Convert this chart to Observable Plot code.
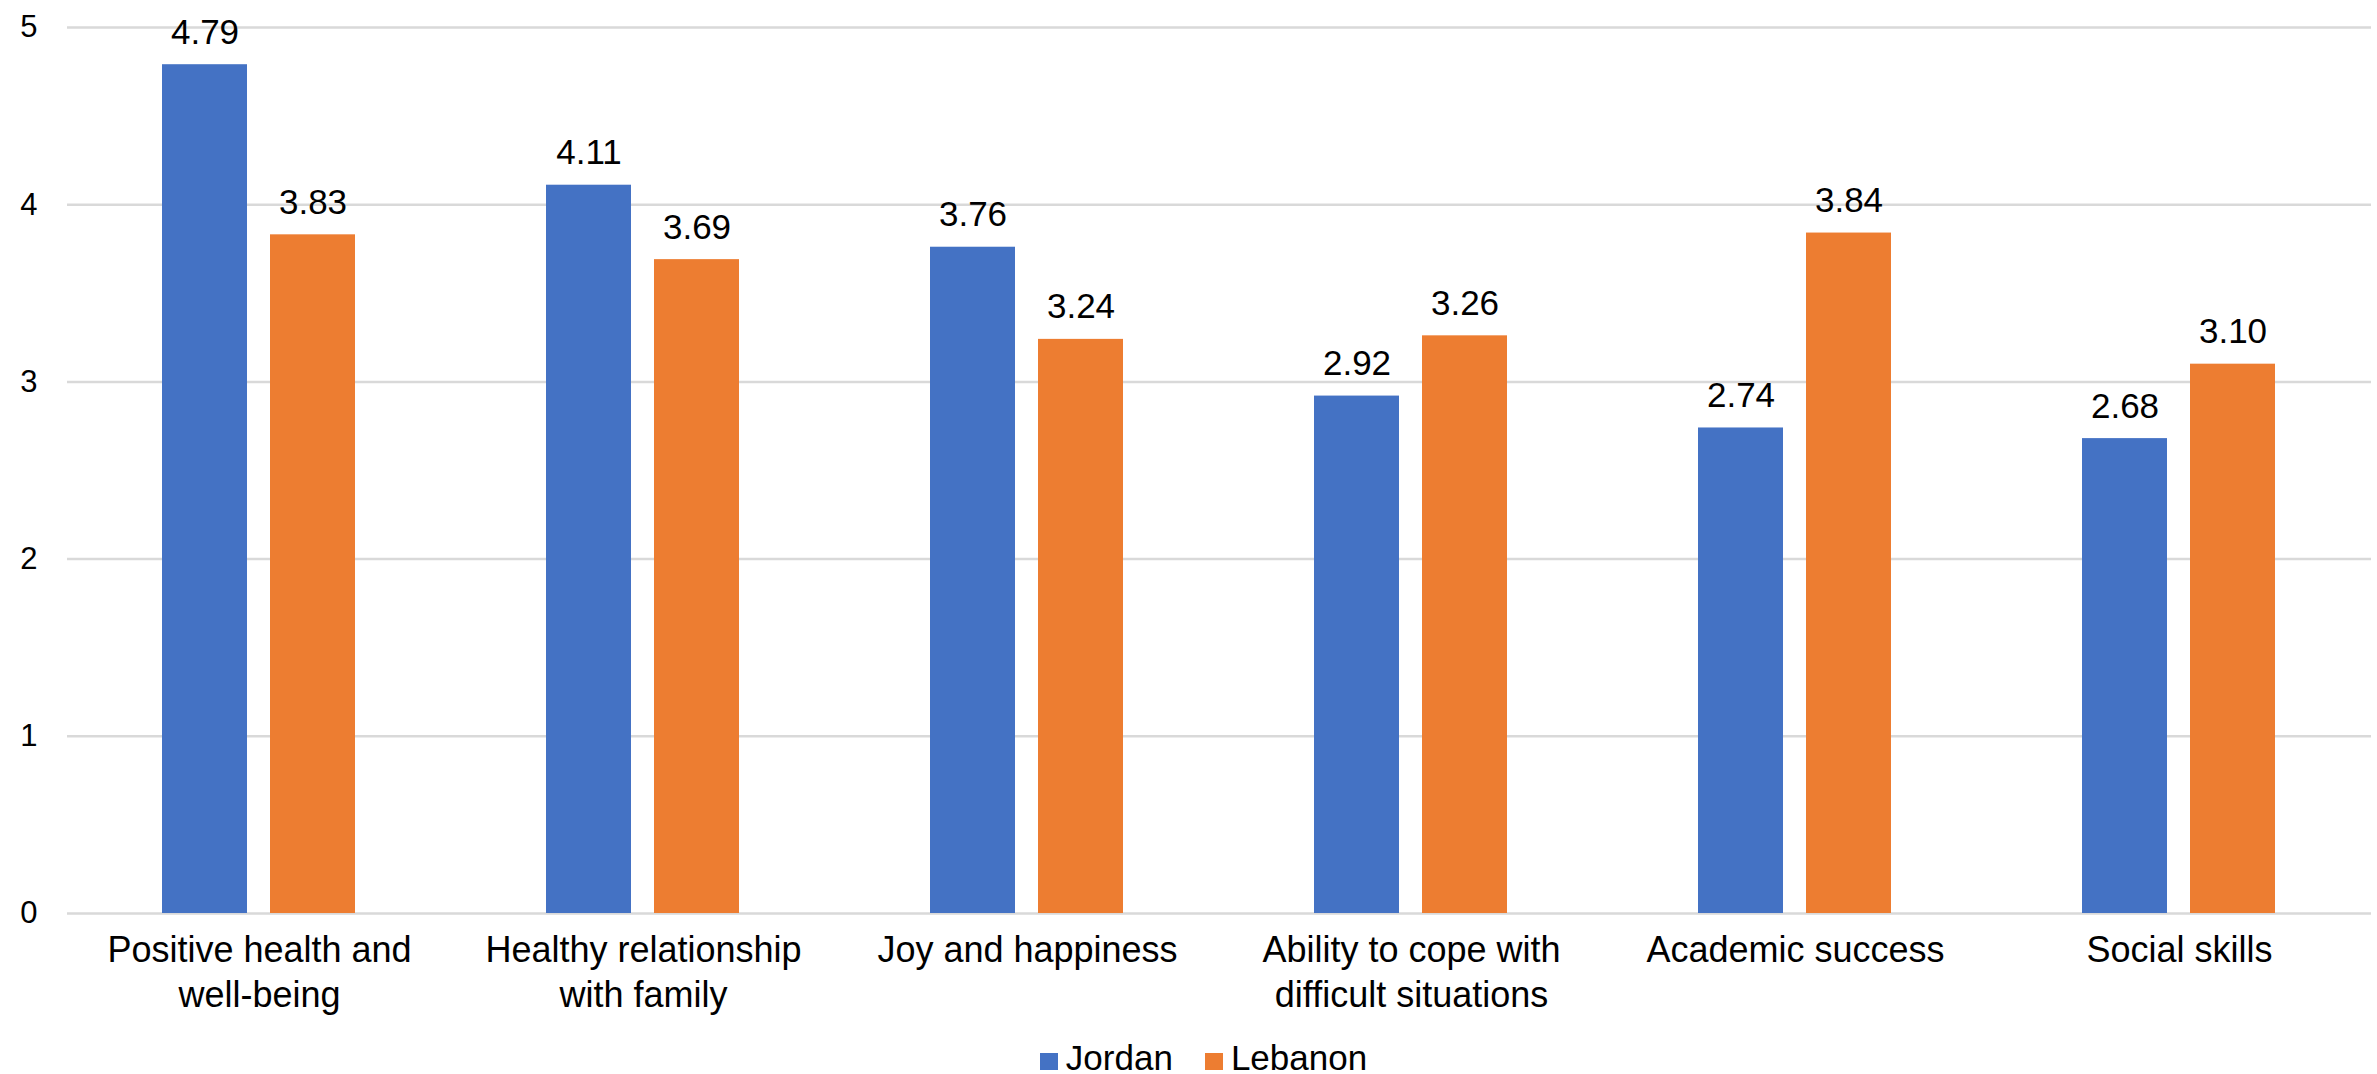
<!DOCTYPE html>
<html>
<head>
<meta charset="utf-8">
<script src="https://cdn.jsdelivr.net/npm/d3@7"></script>
<script src="https://cdn.jsdelivr.net/npm/@observablehq/plot@0.6"></script>
<style>
  html, body { margin: 0; padding: 0; background: #fff; overflow: hidden; }
  body { font-family: "Liberation Sans", Arial, sans-serif; color: #000; }
  #legend {
    display: flex; justify-content: center; align-items: baseline;
    font-size: 35px; line-height: 38px; padding-top: 9px; padding-left: 30px;
  }
  #legend .item { display: inline-flex; align-items: baseline; margin: 0 16px; }
  #legend .swatch { display: inline-block; width: 18px; height: 17px; margin-right: 8px; }
</style>
</head>
<body>
<div id="chart"></div>
<div id="legend"></div>
<script>
// Mean scores by outcome area, per country
const categories = [
  "Positive health and well-being",
  "Healthy relationship with family",
  "Joy and happiness",
  "Ability to cope with difficult situations",
  "Academic success",
  "Social skills"
];
const categoryLabels = [
  "Positive health and\nwell-being",
  "Healthy relationship\nwith family",
  "Joy and happiness",
  "Ability to cope with\ndifficult situations",
  "Academic success",
  "Social skills"
];
const countries = ["Jordan", "Lebanon"];
const jordan = [4.79, 4.11, 3.76, 2.92, 2.74, 2.68];
const lebanon = [3.83, 3.69, 3.24, 3.26, 3.84, 3.10];
const colors = ["#4472C4", "#ED7D31"];
const yTicks = [0, 1, 2, 3, 4, 5];

const series = [jordan, lebanon];
const rows = categories.flatMap((c, i) =>
  countries.map((k, j) => ({category: c, country: k, value: series[j][i]}))
);
const labelOf = new Map(categories.map((c, i) => [c, categoryLabels[i]]));

const chart = Plot.plot({
  width: 2377,
  height: 1030,
  marginTop: 27,
  marginBottom: 117,
  marginLeft: 65,
  marginRight: 5,
  style: {fontFamily: "'Liberation Sans', Arial, sans-serif", color: "#000", background: "#fff"},
  fx: {domain: categories, padding: 0},
  x: {domain: countries, paddingInner: 0.211, paddingOuter: 0.869, axis: null},
  y: {domain: [0, 5]},
  color: {domain: countries, range: colors},
  marks: [
    Plot.ruleY(yTicks, {stroke: "#d9d9d9", strokeWidth: 2.5}),
    Plot.barY(rows, {fx: "category", x: "country", y: "value", fill: "country"}),
    Plot.text(rows, {
      fx: "category", x: "country", y: "value",
      text: d => d.value.toFixed(2),
      lineAnchor: "bottom", dy: -21, fontSize: 35, fill: "#000"
    }),
    Plot.axisY({
      ticks: yTicks, tickSize: 0, tickPadding: 30, fontSize: 31, label: null,
      textAnchor: "end", tickFormat: d => String(d)
    }),
    Plot.axisFx({
      anchor: "bottom", tickSize: 0, tickPadding: 17, fontSize: 36, lineHeight: 1.25,
      label: null, tickFormat: c => labelOf.get(c)
    })
  ]
});
document.getElementById("chart").append(chart);

// Legend below the chart
const legend = document.getElementById("legend");
countries.forEach((k, j) => {
  const item = document.createElement("span");
  item.className = "item";
  const sw = document.createElement("span");
  sw.className = "swatch";
  sw.style.background = colors[j];
  item.append(sw, document.createTextNode(k));
  legend.append(item);
});
</script>
</body>
</html>
